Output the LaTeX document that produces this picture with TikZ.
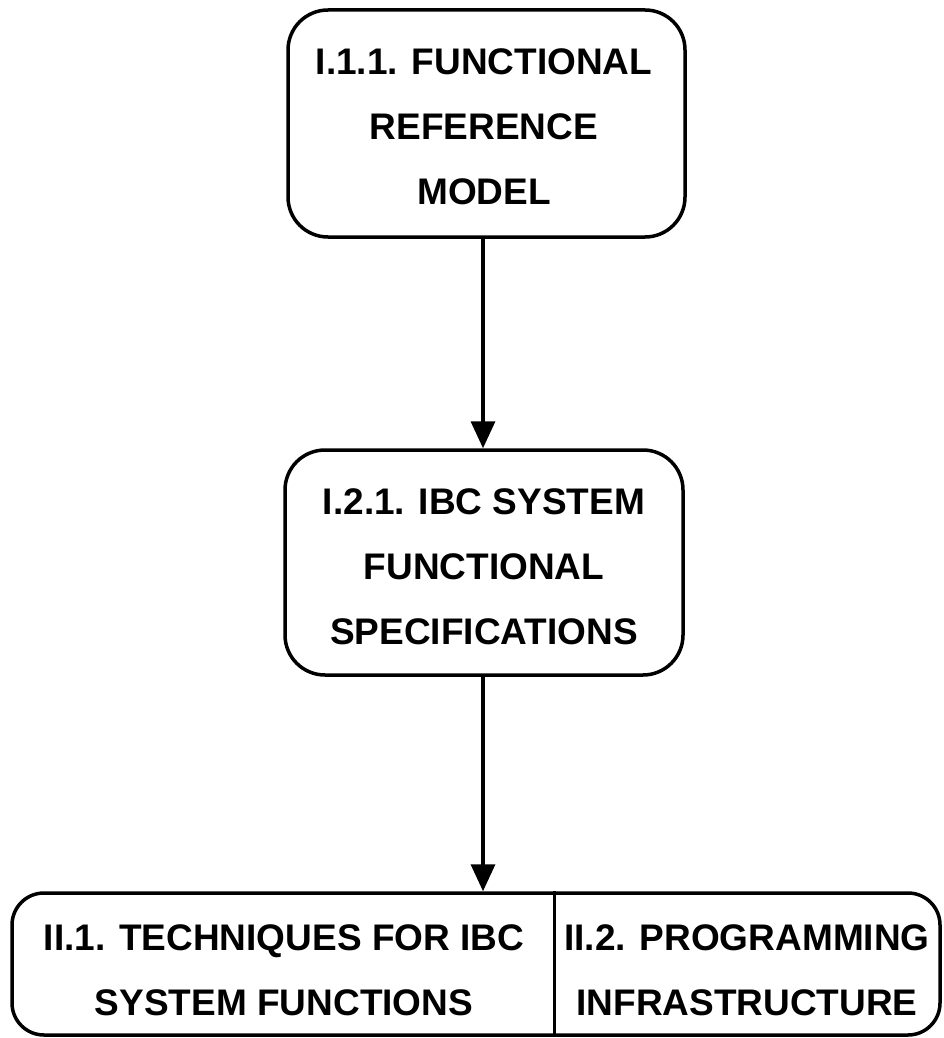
\documentclass[tikz,border=0pt]{standalone}
\usepackage{fontspec}
\setmainfont{Liberation Sans}
\usetikzlibrary{arrows.meta}
\begin{document}
\begin{tikzpicture}[x=1pt,y=1pt,
  boxshape/.style={draw=black, line width=3.5pt, rounded corners=40pt, inner sep=0pt},
  lbl/.style={align=center, inner sep=0pt, font=\fontsize{37}{65}\selectfont\bfseries},
  arr/.style={line width=3.5pt, -{Triangle[length=27pt,width=24pt]}}]
\useasboundingbox (0,0) rectangle (943,-1038);
% boxes
\node[boxshape, minimum width=397pt, minimum height=227pt] (b1) at (486.5,-123.5) {};
\node[lbl] (t1) at (484,-127) {I.1.1. FUNCTIONAL\\REFERENCE\\MODEL};
\node[boxshape, minimum width=398pt, minimum height=225pt] (b2) at (484,-562.5) {};
\node[lbl] (t2) at (484,-566.5) {I.2.1. IBC SYSTEM\\FUNCTIONAL\\SPECIFICATIONS};
\node[boxshape, rounded corners=32pt, minimum width=928pt, minimum height=142pt] (b3) at (476,-964) {};
\node[lbl] (t3a) at (284,-970) {II.1. TECHNIQUES FOR IBC\\SYSTEM FUNCTIONS};
\node[lbl] (t3b) at (747,-970) {II.2. PROGRAMMING\\INFRASTRUCTURE};
% divider
\coordinate (dv) at (554,-893);
\draw[line width=3pt] (dv |- b3.north) -- (dv |- b3.south);
% arrows
\coordinate (ax) at (483,0);
\draw[arr] (b1.south -| ax) -- (b2.north -| ax);
\draw[arr] (b2.south -| ax) -- (b3.north -| ax);
\end{tikzpicture}
\end{document}
